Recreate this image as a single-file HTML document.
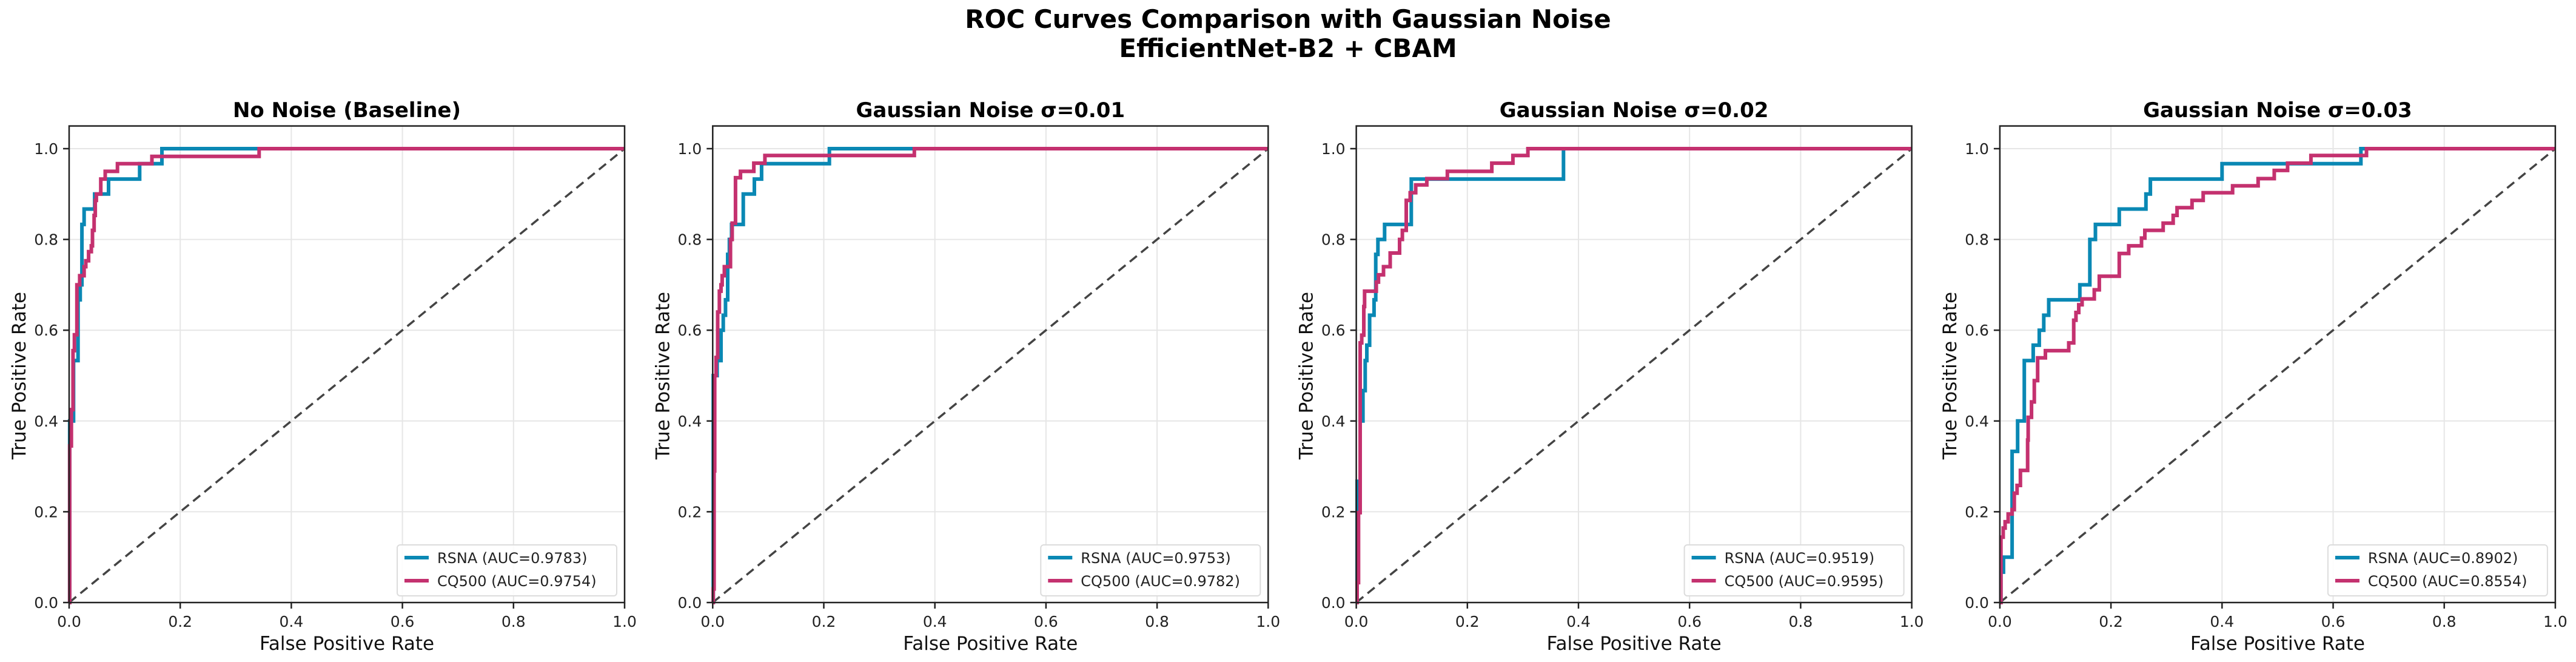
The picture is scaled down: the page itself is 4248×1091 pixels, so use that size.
<!DOCTYPE html>
<html><head><meta charset="utf-8"><style>
html,body{margin:0;padding:0;background:#fff}
svg{display:block;font-family:"DejaVu Sans","Liberation Sans",sans-serif}
</style></head><body>
<svg id="fig" width="4248" height="1091" viewBox="0 0 4248 1091" xmlns="http://www.w3.org/2000/svg">
<text x="2124" y="46" text-anchor="middle" font-size="42" font-weight="bold" fill="#000">ROC Curves Comparison with Gaussian Noise</text>
<text x="2124" y="94" text-anchor="middle" font-size="42" font-weight="bold" fill="#000">EfficientNet-B2 + CBAM</text>
</svg>
<script>
const panelTitles = ["No Noise (Baseline)", "Gaussian Noise σ=0.01", "Gaussian Noise σ=0.02", "Gaussian Noise σ=0.03"];
const tickValues = [0, 0.2, 0.4, 0.6, 0.8, 1.0];
const tickLabels = ["0.0", "0.2", "0.4", "0.6", "0.8", "1.0"];
const rsnaAuc = ["0.9783", "0.9753", "0.9519", "0.8902"];
const cq500Auc = ["0.9754", "0.9782", "0.9595", "0.8554"];
// step points: at fpr[i], tpr jumps to tpr[i]
const rsnaFpr0 = [0.001,0.008,0.016,0.02,0.023,0.027,0.046,0.071,0.127,0.167];
const rsnaTpr0 = [0.4,0.533,0.667,0.70,0.833,0.867,0.90,0.933,0.967,1.0];
const cqFpr0 = [0.001,0.001,0.004,0.007,0.0095,0.014,0.019,0.027,0.03,0.035,0.04,0.042,0.045,0.047,0.049,0.057,0.065,0.087,0.149,0.342];
const cqTpr0 = [0.1,0.345,0.425,0.555,0.59,0.70,0.72,0.74,0.753,0.773,0.786,0.82,0.853,0.886,0.90,0.933,0.95,0.967,0.983,1.0];
const rsnaFpr1 = [0.001,0.008,0.015,0.019,0.023,0.027,0.03,0.034,0.055,0.075,0.088,0.21];
const rsnaTpr1 = [0.5,0.533,0.6,0.633,0.667,0.767,0.8,0.833,0.9,0.933,0.967,1.0];
const cqFpr1 = [0.001,0.0025,0.0036,0.006,0.009,0.012,0.015,0.017,0.021,0.032,0.035,0.041,0.05,0.074,0.094,0.363];
const cqTpr1 = [0.03,0.29,0.5,0.54,0.64,0.686,0.70,0.72,0.74,0.80,0.836,0.936,0.95,0.968,0.985,1.0];
const rsnaFpr2 = [0.0015,0.007,0.012,0.016,0.019,0.024,0.032,0.035,0.039,0.051,0.099,0.373];
const rsnaTpr2 = [0.267,0.4,0.467,0.533,0.567,0.633,0.667,0.767,0.8,0.833,0.933,1.0];
const cqFpr2 = [0.0015,0.004,0.007,0.0098,0.0135,0.015,0.036,0.04,0.049,0.061,0.078,0.083,0.09,0.097,0.107,0.127,0.164,0.244,0.282,0.309];
const cqTpr2 = [0.044,0.198,0.572,0.589,0.652,0.686,0.706,0.722,0.74,0.77,0.80,0.82,0.886,0.903,0.92,0.934,0.95,0.968,0.985,1.0];
const rsnaFpr3 = [0.002,0.0066,0.022,0.032,0.044,0.06,0.071,0.079,0.088,0.144,0.162,0.172,0.215,0.263,0.271,0.40,0.65];
const rsnaTpr3 = [0.067,0.1,0.333,0.4,0.533,0.567,0.6,0.633,0.667,0.7,0.8,0.833,0.867,0.9,0.933,0.967,1.0];
const cqFpr3 = [0.002,0.006,0.0095,0.015,0.022,0.026,0.031,0.037,0.05,0.051,0.057,0.062,0.068,0.082,0.124,0.133,0.137,0.142,0.148,0.17,0.179,0.215,0.232,0.255,0.261,0.294,0.312,0.319,0.346,0.366,0.419,0.465,0.494,0.518,0.56,0.66];
const cqTpr3 = [0.144,0.164,0.178,0.195,0.205,0.241,0.258,0.291,0.358,0.408,0.442,0.489,0.539,0.555,0.572,0.622,0.639,0.656,0.669,0.689,0.719,0.769,0.786,0.803,0.82,0.836,0.853,0.87,0.886,0.903,0.918,0.934,0.952,0.968,0.985,1.0];

const rsnaF = [rsnaFpr0, rsnaFpr1, rsnaFpr2, rsnaFpr3];
const rsnaT = [rsnaTpr0, rsnaTpr1, rsnaTpr2, rsnaTpr3];
const cqF = [cqFpr0, cqFpr1, cqFpr2, cqFpr3];
const cqT = [cqTpr0, cqTpr1, cqTpr2, cqTpr3];

const NS = "http://www.w3.org/2000/svg";
const svg = document.getElementById("fig");
const BLUE = "#0a88b4", PINK = "#c4316f";
function mk(tag, attrs, parent) {
  const e = document.createElementNS(NS, tag);
  for (const k in attrs) e.setAttribute(k, attrs[k]);
  (parent || svg).appendChild(e);
  return e;
}
const L0 = 114, PW = 916, STEP = 1061.3, YB = 993, YSC = 748;
for (let p = 0; p < 4; p++) {
  const L = L0 + p * STEP;
  const sx = v => L + v * PW;
  const sy = v => YB - v * YSC;
  const g = mk("g", {});
  
  
  const top = sy(1.05);
  tickValues.forEach((t, i) => {
    const gx = mk("line", {x1: sx(t), x2: sx(t), y1: top, y2: YB, stroke: "#e6e6e6", "stroke-width": 2}, g);
    
    
    const gy = mk("line", {x1: L, x2: L + PW, y1: sy(t), y2: sy(t), stroke: "#e6e6e6", "stroke-width": 2}, g);
    
    
  });
  const d = mk("line", {x1: sx(0), y1: sy(0), x2: sx(1), y2: sy(1), stroke: "#444", "stroke-width": 3.5, "stroke-dasharray": "15 9"}, g);
  
  
  function curve(F, T, color, name) {
    let pts = [[0, 0]], y = 0;
    for (let i = 0; i < F.length; i++) { pts.push([F[i], y]); pts.push([F[i], T[i]]); y = T[i]; }
    pts.push([1, y]);
    const pl = mk("polyline", {points: pts.map(q => sx(q[0]).toFixed(1) + "," + sy(q[1]).toFixed(1)).join(" "), fill: "none", stroke: color, "stroke-width": 6, "stroke-linejoin": "miter"}, g);
    
    
  }
  curve(rsnaF[p], rsnaT[p], BLUE, 'rsna-roc-curve');
  curve(cqF[p], cqT[p], PINK, 'cq500-roc-curve');
  const fr = mk("rect", {x: L, y: top, width: PW, height: YB - top, fill: "none", stroke: "#222", "stroke-width": 2.5}, g);
  
  
  tickValues.forEach((t, i) => {
    const tx = mk("line", {x1: sx(t), x2: sx(t), y1: YB, y2: YB + 10, stroke: "#222", "stroke-width": 2.5}, g);
    
    
    const lx = mk("text", {x: sx(t), y: YB + 40, "text-anchor": "middle", "font-size": 25, fill: "#222"}, g);
    lx.textContent = tickLabels[i];
    
    
    const ty = mk("line", {x1: L - 10, x2: L, y1: sy(t), y2: sy(t), stroke: "#222", "stroke-width": 2.5}, g);
    
    
    const ly = mk("text", {x: L - 18, y: sy(t) + 9, "text-anchor": "end", "font-size": 25, fill: "#222"}, g);
    ly.textContent = tickLabels[i];
    
    
  });
  const xt = mk("text", {x: L + PW / 2, y: 1071, "text-anchor": "middle", "font-size": 31, fill: "#111"}, g);
  xt.textContent = "False Positive Rate";
  
  
  const yt = mk("text", {x: 0, y: 0, transform: `translate(${L - 72},${sy(0.5)}) rotate(-90)`, "text-anchor": "middle", "font-size": 31, fill: "#111"}, g);
  yt.textContent = "True Positive Rate";
  
  
  const tt = mk("text", {x: L + PW / 2, y: 193, "text-anchor": "middle", "font-size": 34, "font-weight": "bold", fill: "#000"}, g);
  tt.textContent = panelTitles[p];
  
  
  const lg = mk("g", {}, g);
  
  
  const lr = L + PW - 13, lw = 362, lt = 898, lb = 982;
  mk("rect", {x: lr - lw, y: lt, width: lw, height: lb - lt, rx: 5, fill: "#fff", "fill-opacity": 0.85, stroke: "#dcdcdc", "stroke-width": 2}, lg);
  [[BLUE, "RSNA (AUC=" + rsnaAuc[p] + ")", "legend-entry-rsna"], [PINK, "CQ500 (AUC=" + cq500Auc[p] + ")", "legend-entry-cq500"]].forEach((e, i) => {
    const eg = mk("g", {}, lg);
    
    
    const cy = lt + 21 + i * 38;
    mk("line", {x1: lr - lw + 12, x2: lr - lw + 52, y1: cy, y2: cy, stroke: e[0], "stroke-width": 6}, eg);
    const t = mk("text", {x: lr - lw + 66, y: cy + 9, "font-size": 24, fill: "#222"}, eg);
    t.textContent = e[1];
  });
}
</script>
</body></html>
